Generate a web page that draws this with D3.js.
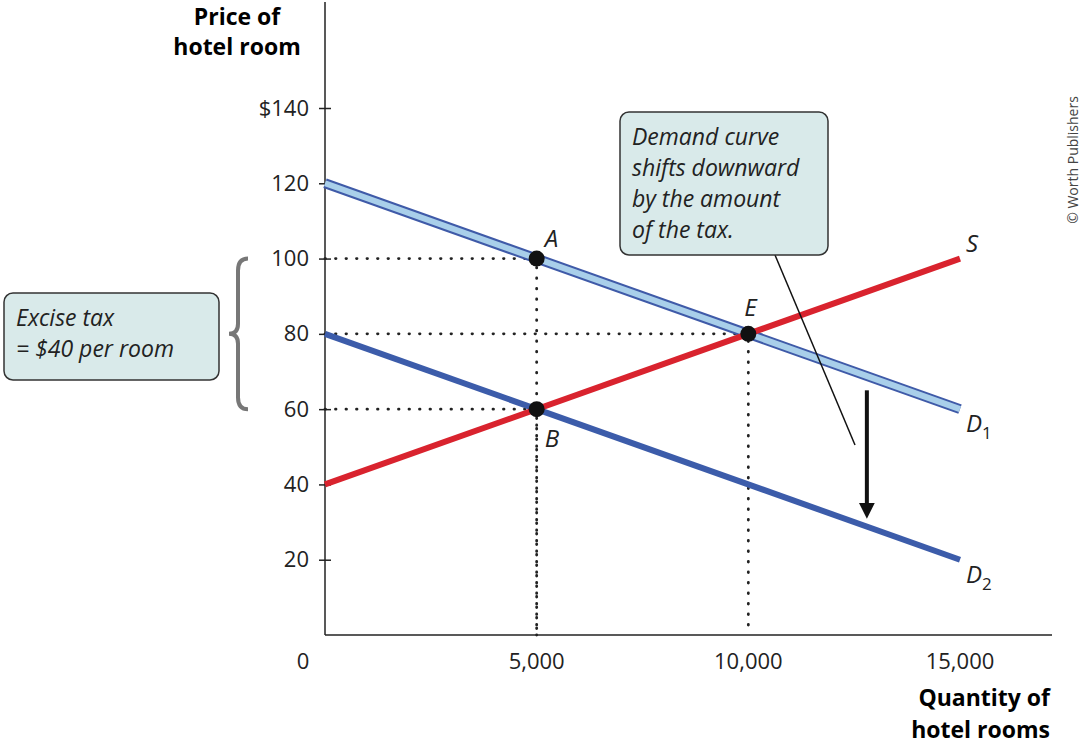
<!DOCTYPE html>
<html><head><meta charset="utf-8">
<script src="https://cdn.jsdelivr.net/npm/d3@7"></script>
<style>body{margin:0;background:#fff}svg{font-family:"Open Sans",sans-serif}</style>
</head><body><svg id="c" width="1083" height="744"></svg>
<script>
var svg = d3.select("#c");
var x = d3.scaleLinear().domain([0, 15000]).range([325, 960]);
var y = d3.scaleLinear().domain([0, 140]).range([635, 108]);

var curves = {
    D1: [[0, 120], [15000, 60]],
    D2: [[0, 80], [15000, 20]],
    S: [[0, 40], [15000, 100]]
};
var points = [
    {name: "A", q: 5000, p: 100, dx: 8, dy: -12},
    {name: "E", q: 10000, p: 80, dx: -4, dy: -18},
    {name: "B", q: 5000, p: 60, dx: 8, dy: 38}
];
var line = d3.line().x(function(d){ return x(d[0]); }).y(function(d){ return y(d[1]); });

// axes
var yAxis = d3.axisLeft(y).tickValues([20, 40, 60, 80, 100, 120, 140]).tickSize(12)
    .tickFormat(function(d){ return d == 140 ? "$140" : d; });
var gy = svg.append("g").attr("transform", "translate(325,0)").call(yAxis)
    .attr("font-family", "'Open Sans', sans-serif").attr("font-size", 22);
gy.select(".domain").remove();
gy.selectAll("line").attr("transform", "translate(6,0)").attr("stroke", "#222").attr("stroke-width", 1.5);
gy.selectAll("text").attr("fill", "#222").attr("x", -16);
svg.append("line").attr("x1", 325).attr("x2", 325).attr("y1", 2).attr("y2", 635).attr("stroke", "#222").attr("stroke-width", 1.5);
svg.append("line").attr("x1", 325).attr("x2", 1052).attr("y1", 635).attr("y2", 635).attr("stroke", "#222").attr("stroke-width", 1.5);
svg.selectAll(".xt").data([5000, 10000, 15000]).enter().append("text")
    .attr("x", function(d){ return x(d); }).attr("y", 669).attr("text-anchor", "middle")
    .attr("font-size", 22).attr("fill", "#222").text(d3.format(","));
svg.append("text").attr("x", 303).attr("y", 669).attr("text-anchor", "middle").attr("font-size", 22).attr("fill", "#222").text("0");

svg.append("text").attr("x", 237).attr("y", 25).attr("text-anchor", "middle").attr("font-weight", "bold").attr("font-size", 23)
    .selectAll("tspan").data(["Price of", "hotel room"]).enter().append("tspan")
    .attr("x", 237).attr("dy", function(d, i){ return i ? 30 : 0; }).text(function(d){ return d; });
svg.append("text").attr("x", 1050).attr("y", 706).attr("text-anchor", "end").attr("font-weight", "bold").attr("font-size", 23)
    .selectAll("tspan").data(["Quantity of", "hotel rooms"]).enter().append("tspan")
    .attr("x", 1050).attr("dy", function(d, i){ return i ? 32 : 0; }).text(function(d){ return d; });

// dotted guides
points.forEach(function(pt){
    var path = [[x(0), y(pt.p)], [x(pt.q), y(pt.p)], [x(pt.q), y(0)]];
    svg.append("path").attr("d", d3.line()(path)).attr("fill", "none").attr("stroke", "#222")
        .attr("stroke-width", 2.8).attr("stroke-dasharray", "0.5 10").attr("stroke-linecap", "round");
});

// curves
svg.append("path").attr("d", line(curves.D1)).attr("stroke", "#3f5aa8").attr("stroke-width", 10).attr("fill", "none");
svg.append("path").attr("d", line(curves.D1)).attr("stroke", "#a9cfea").attr("stroke-width", 6).attr("fill", "none");
svg.append("path").attr("d", line(curves.D2)).attr("stroke", "#3c5caa").attr("stroke-width", 6).attr("fill", "none");
svg.append("path").attr("d", line(curves.S)).attr("stroke", "#d9232e").attr("stroke-width", 6).attr("fill", "none");

svg.selectAll(".pt").data(points).enter().append("circle")
    .attr("cx", function(d){ return x(d.q); }).attr("cy", function(d){ return y(d.p); }).attr("r", 8).attr("fill", "#111");
svg.selectAll(".pl").data(points).enter().append("text")
    .attr("x", function(d){ return x(d.q) + d.dx; }).attr("y", function(d){ return y(d.p) + d.dy; })
    .attr("font-size", 24).attr("font-style", "italic").attr("fill", "#222").text(function(d){ return d.name; });

function curveLabel(t, sub, q, p){
    var tx = svg.append("text").attr("x", x(q) + 6).attr("y", y(p) + 8).attr("font-size", 24).attr("font-style", "italic").attr("fill", "#222").text(t);
    if (sub) tx.append("tspan").attr("font-style", "normal").attr("font-size", 17).attr("dy", 7).text(sub);
}
curveLabel("D", "1", 15000, 56);
curveLabel("D", "2", 15000, 16);
curveLabel("S", null, 15000, 104);

// arrow
svg.append("defs").append("marker").attr("id", "ah").attr("viewBox", "0 0 10 10").attr("refX", 5).attr("refY", 5)
    .attr("markerWidth", 4).attr("markerHeight", 5).attr("orient", "auto")
    .append("path").attr("d", "M0,0L10,5L0,10Z").attr("fill", "#111");
svg.append("line").attr("x1", x(12800)).attr("x2", x(12800)).attr("y1", y(65)).attr("y2", y(33))
    .attr("stroke", "#111").attr("stroke-width", 4).attr("marker-end", "url(#ah)");

// callout
svg.append("line").attr("x1", 775).attr("y1", 255).attr("x2", 855).attr("y2", 445).attr("stroke", "#111").attr("stroke-width", 1.5);
function box(x0, y0, w, h, lines, lh){
    svg.append("rect").attr("x", x0).attr("y", y0).attr("width", w).attr("height", h).attr("rx", 9)
        .attr("fill", "#d9eaea").attr("stroke", "#333").attr("stroke-width", 1.5);
    svg.append("text").attr("font-size", 23).attr("font-style", "italic").attr("fill", "#222")
        .selectAll("tspan").data(lines).enter().append("tspan")
        .attr("x", x0 + 12).attr("y", function(d, i){ return y0 + 33 + i * lh; }).text(function(d){ return d; });
}
box(620, 112, 208, 143, ["Demand curve", "shifts downward", "by the amount", "of the tax."], 31);
box(4, 293, 215, 87, ["Excise tax", "= $40 per room"], 31);

// brace
var bt = y(100), bb = y(60), bm = (bt + bb) / 2;
svg.append("path").attr("d", "M248," + bt + " Q238," + bt + " 238," + (bt + 12) + " L238," + (bm - 10) + " Q238," + bm + " 229," + bm +
    " Q238," + bm + " 238," + (bm + 10) + " L238," + (bb - 12) + " Q238," + bb + " 248," + bb)
    .attr("fill", "none").attr("stroke", "#777").attr("stroke-width", 4);

svg.append("text").attr("transform", "translate(1078,160) rotate(-90)").attr("text-anchor", "middle")
    .attr("font-size", 14).attr("fill", "#444").text("© Worth Publishers");
</script></body></html>
